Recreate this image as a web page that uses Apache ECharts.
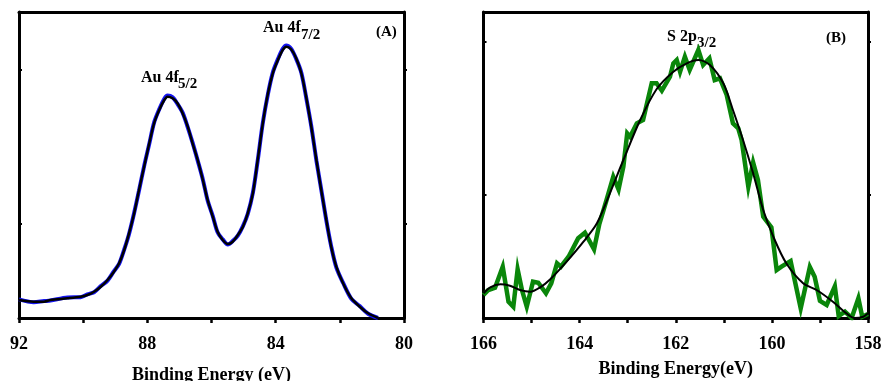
<!DOCTYPE html>
<html>
<head>
<meta charset="utf-8">
<title>XPS spectra: Au 4f and S 2p</title>
<script src="https://cdn.jsdelivr.net/npm/echarts@6/dist/echarts.min.js"></script>
<style>
  html, body { margin: 0; padding: 0; background: #fff; }
  #chart { width: 882px; height: 381px; }
</style>
</head>
<body>
<div id="chart"></div>
<script>
// ---- Panel A: Au 4f region (binding energy in eV, intensity in a.u.) ----
const energyA = [92.00, 91.54, 91.22, 91.02, 90.49, 90.08, 89.87, 89.66, 89.45, 89.24,
  89.04, 88.88, 88.72, 88.57, 88.41, 88.26, 88.10, 87.94, 87.79, 87.63,
  87.47, 87.37, 87.21, 87.06, 86.90, 86.74, 86.59, 86.43, 86.27, 86.12,
  85.96, 85.81, 85.65, 85.49, 85.34, 85.18, 85.02, 84.87, 84.71, 84.56,
  84.40, 84.24, 84.09, 83.93, 83.78, 83.67, 83.52, 83.36, 83.20, 83.05,
  82.89, 82.73, 82.58, 82.42, 82.27, 82.11, 81.90, 81.64, 81.38, 81.12, 80.81];
const measuredA = [18.6, 15.7, 16.9, 17.4, 20.6, 20.8, 23.6, 25.8, 31.9, 37.4,
  46.9, 54.2, 68.6, 84.1, 105.3, 127.4, 151.9, 174.1, 195.4, 208.6,
  219.2, 222.4, 220.6, 214.1, 205.4, 190.7, 175.4, 157.4, 138.6, 117.4,
  101.9, 85.7, 78.6, 73.5, 76.9, 82.4, 91.9, 104.1, 125.3, 157.4,
  195.3, 224.1, 245.4, 258.9, 269.2, 272.6, 269.4, 259.1, 245.3, 220.7,
  191.9, 157.4, 128.6, 97.4, 71.9, 50.7, 35.3, 19.1, 11.9, 4.2, 0];
const fitA = [18, 16.3, 16.3, 18, 19.7, 21.3, 23, 26.3, 31.3, 38,
  46.3, 54.7, 68, 84.7, 104.7, 128, 151.3, 174.7, 194.7, 208,
  218, 221.3, 219.7, 214.7, 204.7, 191.3, 174.7, 158, 138, 118,
  101.3, 86.3, 78, 74, 76.3, 83, 91.3, 104.7, 124.7, 158,
  194.7, 224.7, 244.7, 258, 268, 271.3, 268.7, 259.7, 244.7, 221.3,
  191.3, 158, 128, 98, 71.3, 51.3, 34.7, 19.7, 11.3, 4.7, 0];

// ---- Panel B: S 2p region ----
const energyB = [166.00, 165.90, 165.76, 165.60, 165.48, 165.38, 165.29, 165.20, 165.10, 164.97,
  164.86, 164.70, 164.59, 164.47, 164.39, 164.23, 164.03, 163.89, 163.70, 163.59,
  163.44, 163.30, 163.19, 163.09, 163.01, 162.95, 162.81, 162.68, 162.50, 162.40,
  162.29, 162.12, 162.05, 161.98, 161.91, 161.81, 161.71, 161.53, 161.43, 161.30,
  161.19, 161.08, 160.94, 160.81, 160.70, 160.63, 160.49, 160.39, 160.29, 160.18,
  160.01, 159.90, 159.80, 159.61, 159.40, 159.21, 159.11, 159.00, 158.86, 158.69,
  158.61, 158.48, 158.34, 158.20, 158.12, 158.00];
const measuredB = [23, 28, 30.3, 51.3, 16.3, 11.3, 48.7, 28, 11.3, 36.3,
  35.3, 24.7, 34.7, 54.7, 51.3, 61.3, 79.7, 85.3, 68.7, 94,
  118, 141.3, 128.5, 151.3, 184.7, 181.3, 194.7, 198, 234.7, 234.7,
  227.3, 241.3, 254.7, 258, 246.3, 261.3, 248, 268, 253, 259.7,
  238, 239.7, 223, 194.7, 189.7, 178, 131.3, 155.5, 138, 101.3,
  90.5, 48, 51.3, 57, 9.7, 51, 41.3, 17.2, 13, 31.7,
  2, 6.3, 0, 19.7, 1.3, 4];
const energyFitB = [166.00, 165.86, 165.65, 165.45, 165.24, 165.03, 164.82, 164.61, 164.27, 163.92,
  163.64, 163.37, 163.09, 162.74, 162.40, 162.05, 161.77, 161.53, 161.29, 161.01,
  160.81, 160.60, 160.39, 160.18, 159.97, 159.70, 159.35, 159.07, 158.73, 158.45,
  158.28, 158.10, 158.00];
const fitB = [24.7, 30.7, 33.7, 32.3, 28, 26.3, 30.7, 38.7, 56.3, 76.3,
  94.7, 124.7, 158, 198, 228.7, 246.3, 254.7, 258, 253, 234.7,
  208, 178, 144.7, 108, 81.3, 54.7, 34.7, 28, 16.3, 4.7,
  0, 1.3, 4.7];

// Unlabelled intensity ticks
const intensityTicksA = [94, 248];
const intensityTicksB = [123, 276];

const pairs = (xs, ys) => xs.map((x, i) => [x, ys[i]]);

const SERIF = "'Liberation Serif', 'Times New Roman', serif";
const BLACK = '#000';

function bottomAxis(grid, min, max, interval, labelStep, name, gap) {
  return {
    gridIndex: grid, type: 'value', position: 'bottom', inverse: true,
    min, max, interval,
    axisLine: { show: true, onZero: false, lineStyle: { color: BLACK, width: 3 } },
    axisTick: { show: true, inside: false, length: 5, lineStyle: { color: BLACK, width: 2.5 } },
    axisLabel: {
      show: true, margin: 17, color: BLACK,
      fontFamily: SERIF, fontWeight: 'bold', fontSize: 18,
      formatter: v => (Math.round(v) % labelStep === 0 ? String(v) : '')
    },
    splitLine: { show: false },
    name, nameLocation: 'middle', nameGap: gap,
    nameTextStyle: { color: BLACK, fontFamily: SERIF, fontWeight: 'bold', fontSize: 18 }
  };
}
function topAxis(grid, min, max, interval) {
  return {
    gridIndex: grid, type: 'value', position: 'top', inverse: true,
    min, max, interval,
    axisLine: { show: true, onZero: false, lineStyle: { color: BLACK, width: 3 } },
    axisTick: { show: true, inside: true, length: 2, lineStyle: { color: BLACK, width: 1.5 } },
    axisLabel: { show: false },
    splitLine: { show: false }
  };
}
function sideAxis(grid, pos, ticks) {
  return {
    gridIndex: grid, type: 'value', position: pos, min: 0, max: 306,
    axisLine: { show: true, onZero: false, lineStyle: { color: BLACK, width: 3 } },
    axisTick: { show: true, inside: pos === 'left', length: 3, customValues: ticks,
      lineStyle: { color: BLACK, width: 2 } },
    axisLabel: { show: false },
    splitLine: { show: false }
  };
}

const option = {
  animation: false,
  backgroundColor: '#fff',
  grid: [
    { left: 19, top: 12, width: 385, height: 306, outerBoundsMode: 'none', containLabel: false },
    { left: 483.5, top: 12, width: 384.5, height: 306, outerBoundsMode: 'none', containLabel: false }
  ],
  xAxis: [
    bottomAxis(0, 80, 92, 2, 4, 'Binding Energy (eV)', 48),
    topAxis(0, 80, 92, 2),
    bottomAxis(1, 158, 166, 1, 2, 'Binding Energy(eV)', 42),
    topAxis(1, 158, 166, 1)
  ],
  yAxis: [
    sideAxis(0, 'left', intensityTicksA),
    sideAxis(0, 'right', intensityTicksA),
    sideAxis(1, 'left', intensityTicksB),
    sideAxis(1, 'right', intensityTicksB)
  ],
  series: [
    { name: 'Au 4f measured', type: 'line', xAxisIndex: 0, yAxisIndex: 0,
      data: pairs(energyA, measuredA), smooth: 0.3, symbol: 'none',
      lineStyle: { color: '#1414f0', width: 4 } },
    { name: 'Au 4f fit', type: 'line', xAxisIndex: 0, yAxisIndex: 0,
      data: pairs(energyA, fitA), smooth: 0.3, symbol: 'none',
      lineStyle: { color: '#000', width: 2.5 } },
    { name: 'S 2p measured', type: 'line', xAxisIndex: 2, yAxisIndex: 2,
      data: pairs(energyB, measuredB), smooth: false, symbol: 'none',
      lineStyle: { color: '#0a860a', width: 4.5, join: 'miter' } },
    { name: 'S 2p fit', type: 'line', xAxisIndex: 2, yAxisIndex: 2,
      data: pairs(energyFitB, fitB), smooth: 0.3, symbol: 'none',
      lineStyle: { color: '#000', width: 2 } }
  ],
  graphic: [
    // peak labels with subscripts
    { type: 'text', x: 141, y: 78, style: { text: 'Au 4f', font: `bold 16px ${SERIF}`, fill: BLACK, verticalAlign: 'middle', align: 'left' } },
    { type: 'text', x: 178, y: 84, style: { text: '5/2', font: `bold 15px ${SERIF}`, fill: BLACK, verticalAlign: 'middle', align: 'left' } },
    { type: 'text', x: 263, y: 28, style: { text: 'Au 4f', font: `bold 16px ${SERIF}`, fill: BLACK, verticalAlign: 'middle', align: 'left' } },
    { type: 'text', x: 301, y: 35, style: { text: '7/2', font: `bold 15px ${SERIF}`, fill: BLACK, verticalAlign: 'middle', align: 'left' } },
    { type: 'text', x: 376, y: 32, style: { text: '(A)', font: `bold 15px ${SERIF}`, fill: BLACK, verticalAlign: 'middle', align: 'left' } },
    { type: 'text', x: 667, y: 37, style: { text: 'S 2p', font: `bold 16px ${SERIF}`, fill: BLACK, verticalAlign: 'middle', align: 'left' } },
    { type: 'text', x: 697, y: 43, style: { text: '3/2', font: `bold 15px ${SERIF}`, fill: BLACK, verticalAlign: 'middle', align: 'left' } },
    { type: 'text', x: 826, y: 38, style: { text: '(B)', font: `bold 15px ${SERIF}`, fill: BLACK, verticalAlign: 'middle', align: 'left' } }
  ]
};

const chart = echarts.init(document.getElementById('chart'), null, { renderer: 'canvas' });
chart.setOption(option);
</script>
</body>
</html>
